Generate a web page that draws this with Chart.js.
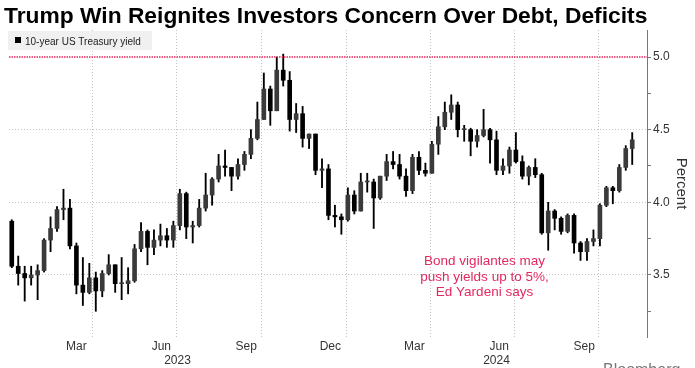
<!DOCTYPE html>
<html>
<head>
<meta charset="utf-8">
<script src="https://cdn.jsdelivr.net/npm/chart.js@4"></script>
<style>
  body { margin: 0; background: #fff; }
</style>
</head>
<body>
<canvas id="yield_chart" width="695" height="368"></canvas>
<script>
// weekly OHLC of the US 10-year Treasury yield, first week starts Mon 2 Jan 2023
const firstWeek = "2023-01-02";
const weekOpen = [
    3.87, 3.56, 3.51, 3.48, 3.50, 3.53, 3.74, 3.82, 3.95, 3.96, 3.70, 3.43, 3.38,
    3.48, 3.39, 3.51, 3.57, 3.44, 3.44, 3.46, 3.68, 3.80, 3.69, 3.74, 3.77, 3.74,
    3.84, 4.06, 3.83, 3.84, 3.96, 4.05, 4.16, 4.25, 4.24, 4.18, 4.26, 4.33, 4.44,
    4.57, 4.78, 4.63, 4.91, 4.84, 4.57, 4.61, 4.44, 4.47, 4.22, 4.23, 3.91, 3.90,
    3.88, 4.05, 3.94, 4.14, 4.14, 4.03, 4.18, 4.28, 4.26, 4.18, 4.08, 4.31, 4.22,
    4.20, 4.40, 4.52, 4.62, 4.67, 4.50, 4.50, 4.42, 4.46, 4.50, 4.43, 4.22, 4.25,
    4.36, 4.28, 4.18, 4.24, 4.19, 3.79, 3.94, 3.89, 3.80, 3.91, 3.72, 3.66, 3.73,
    3.75, 3.98, 4.10, 4.08, 4.24, 4.37,
];
const weekHigh = [
    3.88, 3.63, 3.56, 3.56, 3.57, 3.75, 3.90, 3.97, 4.09, 4.02, 3.72, 3.62, 3.58,
    3.52, 3.53, 3.64, 3.57, 3.62, 3.55, 3.71, 3.86, 3.81, 3.81, 3.85, 3.82, 3.87,
    4.09, 4.07, 3.87, 4.02, 4.20, 4.17, 4.33, 4.36, 4.24, 4.30, 4.35, 4.50, 4.69,
    4.89, 4.80, 5.00, 5.02, 4.90, 4.68, 4.66, 4.47, 4.47, 4.30, 4.26, 3.98, 3.92,
    4.10, 4.08, 4.20, 4.20, 4.16, 4.18, 4.33, 4.35, 4.33, 4.23, 4.33, 4.35, 4.27,
    4.42, 4.59, 4.69, 4.74, 4.69, 4.53, 4.51, 4.50, 4.64, 4.51, 4.49, 4.30, 4.38,
    4.48, 4.32, 4.25, 4.30, 4.20, 4.00, 3.95, 3.90, 3.92, 3.92, 3.73, 3.75, 3.81,
    3.99, 4.11, 4.11, 4.26, 4.39, 4.48,
];
const weekLow = [
    3.55, 3.43, 3.32, 3.43, 3.33, 3.52, 3.66, 3.80, 3.88, 3.68, 3.37, 3.29, 3.37,
    3.25, 3.35, 3.50, 3.38, 3.33, 3.37, 3.45, 3.66, 3.57, 3.64, 3.70, 3.69, 3.69,
    3.81, 3.75, 3.72, 3.83, 3.94, 3.98, 4.14, 4.18, 4.08, 4.16, 4.22, 4.30, 4.43,
    4.57, 4.53, 4.63, 4.80, 4.49, 4.48, 4.38, 4.37, 4.19, 4.10, 3.88, 3.83, 3.78,
    3.87, 3.92, 3.94, 4.07, 3.82, 4.02, 4.15, 4.23, 4.16, 4.04, 4.06, 4.19, 4.18,
    4.20, 4.33, 4.50, 4.57, 4.45, 4.42, 4.32, 4.38, 4.45, 4.27, 4.19, 4.19, 4.20,
    4.27, 4.16, 4.12, 4.17, 3.78, 3.67, 3.81, 3.78, 3.79, 3.65, 3.60, 3.60, 3.70,
    3.70, 3.97, 3.99, 4.07, 4.22, 4.26,
];
const weekClose = [
    3.56, 3.51, 3.48, 3.50, 3.53, 3.74, 3.82, 3.95, 3.96, 3.70, 3.43, 3.38, 3.48,
    3.39, 3.51, 3.57, 3.44, 3.44, 3.46, 3.68, 3.80, 3.69, 3.74, 3.77, 3.74, 3.84,
    4.06, 3.83, 3.84, 3.96, 4.05, 4.16, 4.25, 4.24, 4.18, 4.26, 4.33, 4.44, 4.57,
    4.78, 4.63, 4.91, 4.84, 4.57, 4.61, 4.44, 4.47, 4.22, 4.23, 3.91, 3.90, 3.88,
    4.05, 3.94, 4.14, 4.14, 4.03, 4.18, 4.28, 4.26, 4.18, 4.08, 4.31, 4.22, 4.20,
    4.40, 4.52, 4.62, 4.67, 4.50, 4.50, 4.42, 4.46, 4.50, 4.43, 4.22, 4.25, 4.36,
    4.28, 4.18, 4.24, 4.19, 3.79, 3.94, 3.89, 3.80, 3.91, 3.72, 3.66, 3.73, 3.75,
    3.98, 4.10, 4.08, 4.24, 4.37, 4.43,
];

const axisStart = "2023-01-01";
const axisEnd = "2024-11-22";
const monthLabels = ["Mar", "Jun", "Sep", "Dec", "Mar", "Jun", "Sep"];
const monthLabelDates = ["2023-03-15", "2023-06-15", "2023-09-15", "2023-12-15",
    "2024-03-15", "2024-06-15", "2024-09-15"];
const yearLabels = ["2023", "2024"];
const yearStarts = ["2023-01-01", "2024-01-01"];
const gridDates = ["2023-04-01", "2023-07-01", "2023-10-01", "2024-01-01",
    "2024-04-01", "2024-07-01", "2024-10-01"];
const yTicks = [3.25, 3.5, 3.75, 4.0, 4.25, 4.5, 4.75, 5.0];
const yLabelled = [3.5, 4.0, 4.5, 5.0];
const yGrid = [3.5, 4.0, 4.5];
const targetYield = 5.0;

const chartTitle = "Trump Win Reignites Investors Concern Over Debt, Deficits";
const seriesName = "10-year US Treasury yield";
const noteLines = ["Bond vigilantes may", "push yields up to 5%,", "Ed Yardeni says"];
const noteDate = "2024-05-30";
const noteValue = 3.566;

function dayOf(s) {
    return (Date.parse(s) - Date.parse(axisStart)) / 86400000;
}

const endDay = dayOf(axisEnd);
const weekX = weekOpen.map((_, i) => dayOf(firstWeek) + 7 * i + 2);
const wicks = weekX.map((x, i) => ({ x, y: [weekLow[i], weekHigh[i]] }));
const bodies = weekX.map((x, i) => ({
    x,
    y: [Math.min(weekOpen[i], weekClose[i]), Math.max(weekOpen[i], weekClose[i])],
}));
const bodyColors = weekX.map((_, i) => (weekClose[i] >= weekOpen[i] ? "#3a3a3a" : "#000"));

const monthDays = monthLabelDates.map(dayOf);
const gridDays = gridDates.map(dayOf);
const yearDays = yearStarts.map((s, i) =>
    (dayOf(s) + (i + 1 < yearStarts.length ? dayOf(yearStarts[i + 1]) : endDay)) / 2,
);
const xTickDays = [...monthDays, ...gridDays, ...yearDays];

const FONT = '"Liberation Sans", Arial, sans-serif';
const NOTE_RED = "#e3285f";

const decorations = {
    id: "decorations",
    afterDraw(chart) {
        const { ctx, chartArea, scales } = chart;
        ctx.save();

        ctx.fillStyle = "#000";
        ctx.textAlign = "left";
        ctx.textBaseline = "alphabetic";
        ctx.font = "bold 22.8px " + FONT;
        ctx.fillText(chartTitle, 4, 23);

        // legend box
        ctx.fillStyle = "#f0f0f0";
        ctx.fillRect(chartArea.left - 1, 31, 144, 19);
        ctx.fillStyle = "#000";
        ctx.fillRect(chartArea.left + 6, 37, 6, 6);
        ctx.fillStyle = "#222";
        ctx.font = "10px " + FONT;
        ctx.fillText(seriesName, chartArea.left + 16, 44.5);

        // annotation
        ctx.fillStyle = NOTE_RED;
        ctx.font = "13.5px " + FONT;
        ctx.textAlign = "center";
        const nx = scales.x.getPixelForValue(dayOf(noteDate));
        const ny = scales.y.getPixelForValue(noteValue);
        noteLines.forEach((line, i) => ctx.fillText(line, nx, ny + i * 15.5));

        ctx.fillStyle = "#777";
        ctx.font = "16px " + FONT;
        ctx.textAlign = "left";
        ctx.fillText("Bloomberg", 603, 375);
        ctx.restore();
    },
};

new Chart(document.getElementById("yield_chart"), {
    type: "bar",
    data: {
        datasets: [
            {
                type: "line",
                data: [
                    { x: 0, y: targetYield },
                    { x: endDay, y: targetYield },
                ],
                borderColor: NOTE_RED,
                borderWidth: 1.5,
                borderDash: [1.5, 1],
                pointRadius: 0,
                order: 0,
            },
            {
                data: wicks,
                backgroundColor: "#000",
                barThickness: 1.2,
                grouped: false,
                order: 2,
            },
            {
                data: bodies,
                backgroundColor: bodyColors,
                barThickness: 4,
                minBarLength: 1,
                grouped: false,
                order: 1,
            },
        ],
    },
    options: {
        responsive: false,
        animation: false,
        layout: { padding: { left: 9, top: 30, right: 0, bottom: 0 } },
        plugins: { legend: { display: false }, tooltip: { enabled: false } },
        scales: {
            x: {
                type: "linear",
                min: 0,
                max: endDay,
                offset: false,
                grid: {
                    offset: false,
                    drawTicks: false,
                    color: (c) => (c.tick && gridDays.includes(c.tick.value) ? "#c4c4c4" : "rgba(0,0,0,0)"),
                },
                border: { display: false, dash: [1, 2] },
                afterBuildTicks: (s) => {
                    s.ticks = xTickDays.map((v) => ({ value: v }));
                },
                ticks: {
                    autoSkip: false,
                    maxRotation: 0,
                    padding: 2,
                    color: "#333",
                    font: { family: FONT, size: 12 },
                    callback: (v) => {
                        const m = monthDays.indexOf(v);
                        if (m >= 0) return monthLabels[m];
                        const y = yearDays.indexOf(v);
                        if (y >= 0) return ["", yearLabels[y]];
                        return "";
                    },
                },
                afterFit: (s) => {
                    s.height = 31;
                },
            },
            y: {
                position: "right",
                min: 3.073,
                max: 5.186,
                afterBuildTicks: (s) => {
                    s.ticks = yTicks.map((v) => ({ value: v }));
                },
                grid: {
                    color: (c) => (c.tick && yGrid.includes(c.tick.value) ? "#c4c4c4" : "rgba(0,0,0,0)"),
                    tickColor: "#777",
                    tickLength: 4,
                },
                border: { display: true, color: "#777", dash: [1, 2] },
                ticks: {
                    padding: 2,
                    color: "#333",
                    font: { family: FONT, size: 12 },
                    callback: (v) => (yLabelled.includes(v) ? v.toFixed(1) : ""),
                },
                title: {
                    display: true,
                    text: "Percent",
                    color: "#333",
                    font: { family: FONT, size: 15 },
                    padding: { top: 5, bottom: 0 },
                },
                afterFit: (s) => {
                    s.width = 48;
                },
            },
        },
    },
    plugins: [decorations],
});
</script>
</body>
</html>
